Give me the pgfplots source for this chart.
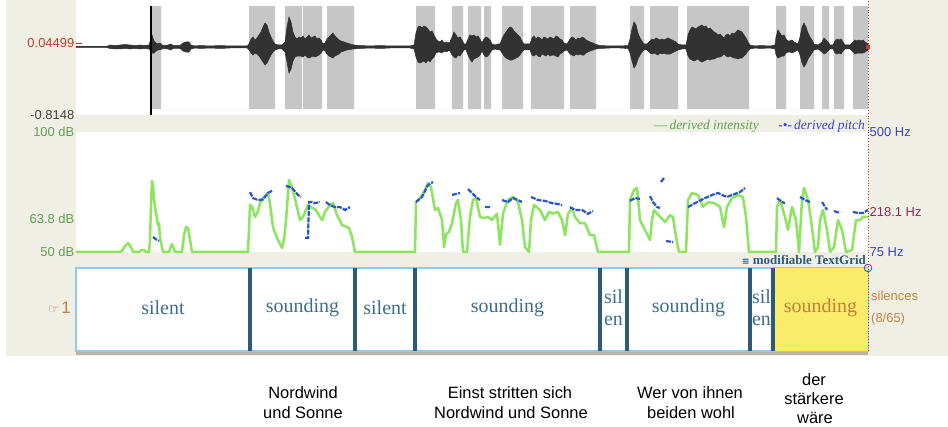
\documentclass[border=0pt]{standalone}
\usepackage{pgfplots}
\pgfplotsset{compat=1.18}
\usepackage{pgfplotstable}
\usepackage{fontspec}
\setmainfont{Liberation Sans}
\newfontfamily\serif{Liberation Serif}
\newfontfamily\djv{DejaVu Sans}

\definecolor{beige}{RGB}{240,239,229}
\definecolor{wavegray}{RGB}{50,50,50}
\definecolor{shade}{RGB}{198,198,198}
\definecolor{intgreen}{RGB}{140,228,95}
\definecolor{pitchblue}{RGB}{40,85,205}
\definecolor{dbgreen}{RGB}{95,160,80}
\definecolor{hzblue}{RGB}{60,65,200}
\definecolor{hzmaroon}{RGB}{140,45,90}
\definecolor{wavered}{RGB}{200,55,40}
\definecolor{labgray}{RGB}{70,70,70}
\definecolor{tgframe}{RGB}{140,205,235}
\definecolor{tgline}{RGB}{45,90,120}
\definecolor{tgtext}{RGB}{60,110,140}
\definecolor{tgyellow}{RGB}{248,236,106}
\definecolor{tgorange}{RGB}{200,125,50}
\definecolor{tierorange}{RGB}{200,130,60}
\definecolor{barbeige}{RGB}{182,180,168}

\newcommand\tl{\fontsize{13}{13}\selectfont}

% waveform envelope (x in 10 ms, amplitude)
\pgfplotstableread{
x top bot
0 0.006 -0.006
31 0.006 -0.006
34 0.024 -0.018
39 0.018 -0.024
44 0.024 -0.024
49 0.030 -0.018
54 0.024 -0.024
59 0.018 -0.018
64 0.024 -0.024
69 0.018 -0.018
73 0.024 -0.024
76 0.144 -0.072
78 0.072 -0.072
80 0.048 -0.048
82 0.036 -0.036
84 0.048 -0.036
87 0.018 -0.018
92 0.024 -0.024
95 0.036 -0.036
97 0.018 -0.018
104 0.018 -0.018
107 0.048 -0.048
110 0.060 -0.060
113 0.060 -0.060
115 0.024 -0.024
119 0.012 -0.012
124 0.018 -0.018
134 0.012 -0.012
144 0.018 -0.018
154 0.012 -0.012
164 0.012 -0.012
171 0.012 -0.012
173 0.036 -0.036
175 0.096 -0.072
177 0.120 -0.096
179 0.084 -0.072
181 0.108 -0.084
183 0.144 -0.108
185 0.180 -0.144
187 0.240 -0.180
189 0.288 -0.216
191 0.264 -0.192
193 0.180 -0.144
195 0.120 -0.096
197 0.072 -0.060
199 0.036 -0.036
202 0.024 -0.024
206 0.024 -0.024
209 0.060 -0.060
211 0.240 -0.180
213 0.360 -0.312
215 0.300 -0.264
217 0.180 -0.168
219 0.120 -0.120
221 0.096 -0.108
223 0.120 -0.108
225 0.108 -0.108
227 0.132 -0.120
229 0.096 -0.096
231 0.120 -0.120
233 0.144 -0.132
235 0.108 -0.120
237 0.120 -0.108
239 0.132 -0.120
241 0.096 -0.108
243 0.108 -0.096
245 0.084 -0.072
247 0.036 -0.036
249 0.048 -0.048
251 0.096 -0.084
253 0.120 -0.108
255 0.144 -0.120
257 0.168 -0.132
259 0.132 -0.108
261 0.108 -0.096
263 0.084 -0.084
265 0.072 -0.060
268 0.060 -0.048
271 0.048 -0.036
274 0.036 -0.030
278 0.024 -0.024
284 0.018 -0.018
294 0.012 -0.012
304 0.018 -0.018
314 0.012 -0.012
324 0.012 -0.012
334 0.012 -0.012
338 0.024 -0.024
340 0.168 -0.120
342 0.240 -0.180
344 0.252 -0.192
346 0.228 -0.180
348 0.252 -0.168
350 0.240 -0.192
352 0.216 -0.156
354 0.180 -0.180
356 0.192 -0.144
358 0.144 -0.120
360 0.096 -0.072
362 0.072 -0.060
364 0.060 -0.060
366 0.084 -0.072
368 0.048 -0.048
370 0.060 -0.060
372 0.048 -0.048
374 0.060 -0.048
376 0.120 -0.096
378 0.180 -0.120
380 0.144 -0.132
382 0.108 -0.096
384 0.120 -0.108
386 0.084 -0.072
388 0.036 -0.036
390 0.036 -0.036
392 0.096 -0.096
394 0.144 -0.144
396 0.132 -0.180
398 0.144 -0.144
400 0.120 -0.132
402 0.132 -0.120
404 0.096 -0.096
406 0.048 -0.048
408 0.096 -0.096
410 0.120 -0.120
412 0.108 -0.108
414 0.084 -0.072
416 0.036 -0.036
419 0.024 -0.024
422 0.036 -0.036
424 0.036 -0.036
426 0.096 -0.072
428 0.144 -0.108
430 0.180 -0.132
432 0.216 -0.144
434 0.240 -0.156
436 0.228 -0.156
438 0.192 -0.144
440 0.168 -0.132
442 0.144 -0.120
444 0.120 -0.096
446 0.072 -0.060
448 0.036 -0.036
451 0.036 -0.036
454 0.036 -0.036
456 0.108 -0.096
458 0.132 -0.108
460 0.096 -0.084
462 0.120 -0.108
464 0.108 -0.120
466 0.084 -0.084
468 0.120 -0.096
470 0.108 -0.108
472 0.096 -0.084
474 0.120 -0.108
476 0.108 -0.096
478 0.096 -0.096
480 0.132 -0.108
482 0.120 -0.120
484 0.096 -0.084
486 0.084 -0.072
488 0.048 -0.048
491 0.036 -0.036
494 0.096 -0.084
496 0.120 -0.096
498 0.108 -0.108
500 0.084 -0.084
502 0.108 -0.096
504 0.096 -0.084
506 0.120 -0.096
508 0.108 -0.096
510 0.084 -0.072
512 0.072 -0.060
514 0.060 -0.048
517 0.048 -0.036
520 0.030 -0.024
524 0.018 -0.018
534 0.012 -0.012
544 0.012 -0.012
552 0.018 -0.018
554 0.096 -0.072
556 0.216 -0.168
558 0.300 -0.252
560 0.264 -0.216
562 0.168 -0.144
564 0.108 -0.096
566 0.072 -0.060
568 0.036 -0.036
571 0.036 -0.036
574 0.072 -0.072
576 0.096 -0.084
578 0.084 -0.072
580 0.108 -0.084
582 0.096 -0.096
584 0.084 -0.072
586 0.096 -0.084
588 0.084 -0.072
590 0.096 -0.084
592 0.108 -0.084
594 0.096 -0.084
596 0.084 -0.072
598 0.072 -0.060
600 0.060 -0.048
602 0.036 -0.036
606 0.024 -0.024
610 0.024 -0.024
612 0.144 -0.108
614 0.204 -0.144
616 0.240 -0.156
618 0.228 -0.168
620 0.216 -0.156
622 0.240 -0.144
624 0.252 -0.168
626 0.264 -0.180
628 0.240 -0.168
630 0.252 -0.156
632 0.216 -0.144
634 0.228 -0.156
636 0.204 -0.144
638 0.180 -0.144
640 0.168 -0.132
642 0.144 -0.120
644 0.156 -0.120
646 0.132 -0.108
648 0.108 -0.084
650 0.144 -0.108
652 0.156 -0.120
654 0.132 -0.108
656 0.168 -0.120
658 0.156 -0.132
660 0.180 -0.132
662 0.204 -0.144
664 0.192 -0.132
666 0.180 -0.132
668 0.144 -0.108
670 0.108 -0.084
672 0.060 -0.048
674 0.024 -0.024
679 0.012 -0.012
684 0.018 -0.018
694 0.012 -0.012
699 0.024 -0.024
700 0.120 -0.096
702 0.204 -0.132
704 0.168 -0.120
706 0.132 -0.108
708 0.144 -0.108
710 0.096 -0.072
712 0.072 -0.060
714 0.072 -0.060
716 0.084 -0.072
718 0.060 -0.060
720 0.048 -0.048
722 0.036 -0.036
724 0.120 -0.096
726 0.240 -0.192
728 0.288 -0.240
730 0.240 -0.204
732 0.168 -0.144
734 0.120 -0.108
736 0.084 -0.072
738 0.036 -0.036
742 0.024 -0.024
746 0.060 -0.060
748 0.108 -0.084
750 0.084 -0.072
752 0.060 -0.048
754 0.024 -0.024
757 0.024 -0.024
759 0.072 -0.072
761 0.096 -0.084
763 0.084 -0.072
765 0.096 -0.084
767 0.060 -0.048
769 0.024 -0.024
774 0.024 -0.024
777 0.060 -0.060
779 0.084 -0.084
781 0.072 -0.072
783 0.084 -0.072
785 0.072 -0.072
787 0.084 -0.072
789 0.060 -0.060
792 0.036 -0.036
}\wave

% derived intensity (dB)
\pgfplotstableread{
x db
0 50
44 50
46 50.5
49 52.5
52 53.7
55 52
57 50
63 50
65 50.8
68 50.8
70 50
73 50
74 55
75 70
76 79.6
77 78
78 72
79 68.7
81 64
82 61
83 62
84 56
86 52
87 50
93 50
95 52.5
96 53.3
98 51
99 50
106 50
108 57
110 60.4
112 60
114 55
116 50
172 50
174 69.6
176 69
179 64.6
182 67
184 70.4
188 73
192 74.6
194 70
197 60.4
199 58
202 55
206 51.7
208 55
210 63.3
213 80
216 77
220 70.4
224 63.3
227 64.6
232 69.6
236 68.3
239 68
242 66
246 63.3
249 66.7
254 69.6
257 70.4
261 65.4
264 63
266 61.3
273 60
276 56.3
279 50
339 50
340 70.8
344 72.5
348 75
352 78.8
355 77
359 67.5
362 68.3
366 63.3
368 52
370 57.5
373 58.3
376 62
380 70.4
382 71.7
385 63.3
387 50
391 50
394 64.6
397 71.7
400 72.5
404 64.6
408 64.2
412 64.6
416 63.3
421 66
424 53
427 66
432 71.7
437 73
442 70.8
446 63.3
449 52
453 50
455 63.3
458 69.6
464 67.5
469 63.3
473 66.7
477 66
482 66.7
486 63.3
489 57
492 66
496 68.3
499 64.6
504 62
509 62
514 57
518 57
522 50
553 50
554 71.7
558 75.8
561 76.7
564 63.3
569 59.2
574 55
576 63.3
578 67.5
584 64.6
589 62.5
594 65.4
597 64.6
600 56.3
603 50
610 50
612 71.7
616 74.6
622 73.7
627 68.8
632 70.8
638 70.4
644 68.8
648 60.4
651 68.8
656 72.5
662 73.7
667 72.9
670 64.6
673 50
700 50
701 68.8
704 71.7
709 64.6
712 59.2
716 68.8
720 63.3
723 50
726 71.7
728 76.7
732 71.7
735 63.3
739 50
742 52
744 63.3
747 67.5
751 59.2
754 50
758 52
762 63.3
766 59.2
770 50
776 50.8
780 63.3
784 63.3
787 64.6
792 64.6
}\intensity

% derived pitch (Hz), nan separates voiced stretches
\pgfplotstableread{
x hz
77 128
80 120
83 114
84 nan
174 287
177 266
182 259
187 261
192 284
197 294
198 nan
210 309
216 302
222 277
225 270
226 nan
229 125
232 125
233 252
236 252
239 248
244 252
245 nan
250 252
254 241
259 234
264 234
269 224
274 234
275 nan
340 252
346 270
352 312
357 323
358 nan
376 277
384 284
385 nan
392 298
396 284
400 270
404 259
405 nan
409 234
414 234
415 nan
426 259
432 252
437 266
442 259
446 252
447 nan
455 270
462 259
469 256
476 248
482 245
486 241
487 nan
494 234
499 224
506 224
512 210
517 220
518 nan
554 256
559 266
564 263
565 nan
574 273
577 252
581 234
584 231
584.5 nan
585 323
588 337
589 nan
590 114
597 110
598 nan
612 234
619 248
629 266
636 277
642 284
646 277
651 270
656 277
664 287
669 302
670 nan
701 266
706 252
709 248
710 nan
724 270
729 259
734 252
735 nan
746 252
751 224
752 nan
758 220
764 213
765 nan
777 217
782 213
787 213
792 224
}\pitch

\begin{document}
\begin{tikzpicture}
\useasboundingbox (0bp,0bp) rectangle (948bp,427bp);
\fill[white] (0bp,0bp) rectangle (948bp,427bp);
\fill[beige] (6bp,71bp) rectangle (948bp,427bp);
\fill[barbeige] (76bp,72bp) rectangle (868bp,75.5bp);

% ---------------- waveform ----------------
\begin{axis}[
  at={(76bp,312bp)}, anchor=south west,
  scale only axis, width=792bp, height=115bp,
  xmin=0, xmax=792, ymin=-0.8148, ymax=0.5632,
  axis line style={draw=none},
  axis background/.style={fill=white},
  xtick=\empty,
  ytick={0.04499}, yticklabels={0.04499},
  ytick pos=left, tick align=inside,
  major tick length=6bp,
  major tick style={wavered, line width=1bp},
  yticklabel style={font=\tl, text=wavered, inner sep=1.5bp},
  extra y ticks={-0.8148}, extra y tick labels={-0.8148},
  extra y tick style={major tick length=0pt, yticklabel style={text=labgray}},
  clip=false,
]
\addplot[fill=shade, draw=none] coordinates {
(75,-0.743) (75,0.491) (85,0.491) (85,-0.743)
(173,-0.743) (173,0.491) (199,0.491) (199,-0.743)
(209,-0.743) (209,0.491) (226,0.491) (226,-0.743)
(227,-0.743) (227,0.491) (246,0.491) (246,-0.743)
(251,-0.743) (251,0.491) (278,0.491) (278,-0.743)
(340,-0.743) (340,0.491) (359,0.491) (359,-0.743)
(376,-0.743) (376,0.491) (387,0.491) (387,-0.743)
(392,-0.743) (392,0.491) (405,0.491) (405,-0.743)
(408,-0.743) (408,0.491) (415,0.491) (415,-0.743)
(426,-0.743) (426,0.491) (447,0.491) (447,-0.743)
(455,-0.743) (455,0.491) (488,0.491) (488,-0.743)
(494,-0.743) (494,0.491) (520,0.491) (520,-0.743)
(554,-0.743) (554,0.491) (568,0.491) (568,-0.743)
(574,-0.743) (574,0.491) (602,0.491) (602,-0.743)
(611,-0.743) (611,0.491) (673,0.491) (673,-0.743)
(700,-0.743) (700,0.491) (710,0.491) (710,-0.743)
(724,-0.743) (724,0.491) (738,0.491) (738,-0.743)
(746,-0.743) (746,0.491) (753,0.491) (753,-0.743)
(758,-0.743) (758,0.491) (768,0.491) (768,-0.743)
(777,-0.743) (777,0.491) (792,0.491) (792,-0.743)
} -- cycle;
\addplot[wavegray, fill=wavegray, line width=0.5bp] table[x=x, y=top] {\wave} \closedcycle;
\addplot[wavegray, fill=wavegray, line width=0.5bp] table[x=x, y=bot] {\wave} \closedcycle;
\addplot[black, line width=1.2bp] coordinates {(75,0.491) (75,-0.8148)};
\addplot[only marks, mark=square*, mark size=1.6bp, wavered] coordinates {(792,0)};
\end{axis}

% legend of the analysis panel
\node[anchor=base east, inner sep=0pt, text=dbgreen, font=\serif\fontsize{13.5}{14}\selectfont] at (759bp,297bp) {—\,\textit{derived intensity}};
\node[anchor=base east, inner sep=0pt, text=hzblue, font=\serif\fontsize{13.5}{14}\selectfont] at (865bp,297bp) {-•-\,\textit{derived pitch}};

% ---------------- intensity ----------------
\begin{axis}[
  at={(76bp,175bp)}, anchor=south west,
  scale only axis, width=792bp, height=120bp,
  xmin=0, xmax=792, ymin=50, ymax=100,
  axis line style={draw=none},
  axis background/.style={fill=white},
  xtick=\empty,
  ytick={50,63.8,100}, yticklabels={50 dB,63.8 dB,100 dB},
  ytick pos=left, major tick length=0pt,
  yticklabel style={font=\tl, text=dbgreen, inner sep=1.5bp},
  clip=false,
]
\addplot[intgreen, line width=2.5bp, line join=round] table[x=x, y=db] {\intensity};
\end{axis}

% ---------------- pitch ----------------
\begin{axis}[
  at={(76bp,175bp)}, anchor=south west,
  scale only axis, width=792bp, height=120bp,
  xmin=0, xmax=792, ymin=75, ymax=500,
  axis line style={draw=none},
  xtick=\empty,
  ytick={75,218.1,500},
  yticklabels={\textcolor{hzblue}{75 Hz},\textcolor{hzmaroon}{218.1 Hz},\textcolor{hzblue}{500 Hz}},
  ytick pos=right, yticklabel pos=right, major tick length=0pt,
  yticklabel style={font=\tl, inner sep=1.5bp},
  unbounded coords=jump,
]
\addplot[pitchblue, line width=2.2bp, dash pattern=on 5bp off 1.2bp] table[x=x, y=hz] {\pitch};
\end{axis}

\node[anchor=base east, inner sep=0pt, text=tgline, font=\serif\bfseries\fontsize{13}{13}\selectfont] at (866bp,162bp) {{\djv\fontsize{9}{9}\selectfont ≡}\ modifiable TextGrid};

% ---------------- TextGrid tier ----------------
\begin{axis}[
  at={(76bp,76bp)}, anchor=south west,
  scale only axis, width=792bp, height=83bp,
  xmin=0, xmax=792, ymin=0, ymax=1,
  axis line style={tgframe, line width=1.5bp},
  axis background/.style={fill=white},
  xtick=\empty, ytick=\empty,
  clip=false,
]
\addplot[fill=tgyellow, draw=none] coordinates {(697,0) (697,1) (792,1) (792,0)} -- cycle;
\addplot[ycomb, no marks, tgline, line width=4bp] coordinates {(174,1) (279,1) (339,1) (524,1) (551,1) (674,1) (697,1)};
\begin{scope}[every node/.style={font=\serif\fontsize{20}{22}\selectfont, text=tgtext, inner sep=0pt}]
\node at (axis cs:87,0.52) {silent};
\node at (axis cs:226.5,0.52) {sounding};
\node at (axis cs:309,0.52) {silent};
\node at (axis cs:431.5,0.52) {sounding};
\node[align=center] at (axis cs:537.5,0.52) {sil\\en};
\node at (axis cs:612.5,0.52) {sounding};
\node[align=center] at (axis cs:685.5,0.52) {sil\\en};
\node[text=tgorange] at (axis cs:744.5,0.52) {sounding};
\end{scope}
\end{axis}

\draw[hzblue, line width=0.8bp] (868bp,159bp) circle (3.8bp);
\draw[wavered, dotted, line width=0.8bp] (868bp,76bp) -- (868bp,427bp);

% tier name and counts
\node[anchor=base east, inner sep=0pt, text=tierorange] at (71bp,113bp) {{\djv\fontsize{13}{13}\selectfont ☞}\,{\fontsize{17}{17}\selectfont 1}};
\node[anchor=base west, inner sep=0pt, text=tierorange, font=\tl] at (871bp,126bp) {silences};
\node[anchor=base west, inner sep=0pt, text=tierorange, font=\tl] at (871bp,104bp) {(8/65)};

% words below
\begin{scope}[every node/.style={anchor=base, inner sep=0pt, font=\fontsize{16.5}{20}\selectfont, text=black}]
\node at (303bp,29bp) {Nordwind};
\node at (303bp,9bp) {und Sonne};
\node at (510bp,29bp) {Einst stritten sich};
\node at (511bp,9bp) {Nordwind und Sonne};
\node at (690bp,29bp) {Wer von ihnen};
\node at (691bp,9bp) {beiden wohl};
\node at (814bp,41bp) {der};
\node at (814bp,23bp) {stärkere};
\node at (815bp,4bp) {wäre};
\end{scope}
\end{tikzpicture}
\end{document}
